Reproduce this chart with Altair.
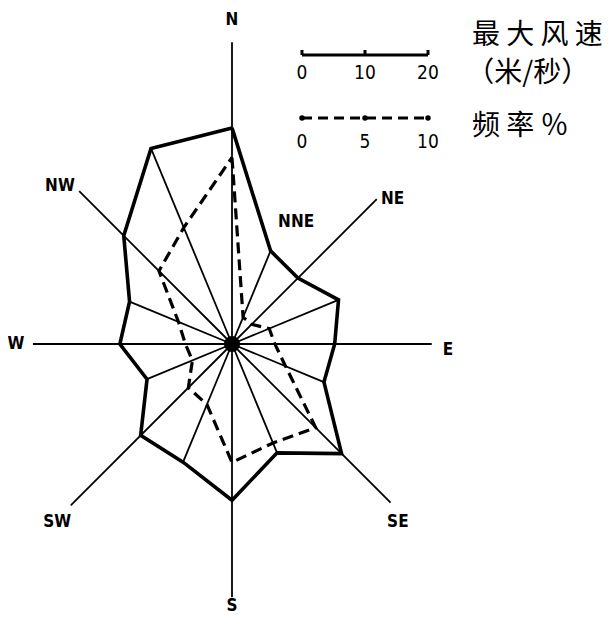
import altair as alt
import pandas as pd

# ---------------- data ----------------
directions = ["N", "NNE", "NE", "ENE", "E", "ESE", "SE", "SSE",
              "S", "SSW", "SW", "WSW", "W", "WNW", "NW", "NNW"]
max_speed = [34.3, 16.0, 14.8, 18.3, 16.3, 15.8, 24.6, 18.7,
             24.8, 20.3, 20.5, 14.6, 17.8, 17.6, 24.3, 33.6]      # m/s
frequency = [14.8, 2.3, 2.2, 3.2, 3.4, 4.6, 9.4, 8.5,
             9.4, 5.2, 4.9, 3.4, 3.7, 4.6, 8.2, 10.0]            # %

# long axes of the eight main directions (in m/s units of the rose)
main_axes = ["N", "NE", "E", "SE", "S", "SW", "W", "NW"]
main_axis_len = [47.9, 32.5, 31.7, 35.6, 40.2, 36.2, 31.6, 34.3]

# direction labels: text, bearing (deg), radius (m/s units)
label_text = ["N", "NNE", "NE", "E", "SE", "S", "SW", "W", "NW"]
label_bearing = [0, 27.7, 48, 91.6, 137, 180, 224.5, 270, 312.6]
label_radius = [51.4, 21.9, 34.3, 34.3, 38.6, 41.6, 39.6, 34.3, 37.1]

FREQ_TO_SPEED = 2.0          # 10 % is drawn as long as 20 m/s
speed_bar_ticks = [0, 10, 20]
freq_bar_ticks = [0, 5, 10]

# ---------------- layout ----------------
W, H = 595, 609
K = 6.3                      # px per m/s
CX, CY = 224, 336            # centre of the rose in plot-area px
xdom = [-CX / K, (W - CX) / K]
ydom = [-(H - CY) / K, CY / K]
xs = alt.Scale(domain=xdom, nice=False, zero=False)
ys = alt.Scale(domain=ydom, nice=False, zero=False)

LEG_X0 = 11.11               # left end of the scale bars
LEG_SPEED_Y = 45.87
LEG_FREQ_Y = 35.87
LABEL_FONT = "DejaVu Sans Condensed"

# ---------------- tables ----------------
n = len(directions)
rose = pd.DataFrame({
    "dir": directions,
    "bearing": [i * 22.5 for i in range(n)],
    "speed": max_speed,
    "freq": frequency,
    "order": list(range(n)),
})
axis_len = dict(zip(main_axes, main_axis_len))
rose["spoke"] = [max(s, axis_len.get(d, 0)) for d, s in zip(directions, max_speed)]
closed = pd.concat([rose, rose.iloc[[0]].assign(order=n)], ignore_index=True)

labels = pd.DataFrame({"t": label_text, "bearing": label_bearing, "r": label_radius})

X = alt.X("x:Q", scale=xs, axis=None)
Y = alt.Y("y:Q", scale=ys, axis=None)

def polar(r_expr):
    return dict(x=f"({r_expr}) * sin(datum.bearing * PI / 180)",
                y=f"({r_expr}) * cos(datum.bearing * PI / 180)")

spokes = alt.Chart(rose).transform_calculate(
    **polar("datum.spoke"), x0="0", y0="0"
).mark_rule(color="black", strokeWidth=1.8).encode(
    x=alt.X("x0:Q", scale=xs, axis=None), y=alt.Y("y0:Q", scale=ys, axis=None),
    x2="x:Q", y2="y:Q")

speed_line = alt.Chart(closed).transform_calculate(
    **polar("datum.speed")
).mark_line(color="black", strokeWidth=3.6, strokeJoin="miter").encode(
    x=X, y=Y, order="order:Q")

freq_line = alt.Chart(closed).transform_calculate(
    **polar(f"datum.freq * {FREQ_TO_SPEED}")
).mark_line(color="black", strokeWidth=3.2, strokeDash=[11, 6],
            strokeJoin="miter").encode(x=X, y=Y, order="order:Q")

centre = alt.Chart(pd.DataFrame({"x": [0], "y": [0]})).mark_circle(
    color="black", opacity=1, size=260).encode(x=X, y=Y)

dir_labels = alt.Chart(labels).transform_calculate(
    **polar("datum.r")
).mark_text(font=LABEL_FONT, fontSize=17, fontWeight="bold", color="black",
            baseline="middle").encode(x=X, y=Y, text="t:N")

# ---------------- scale-bar legend ----------------
sbar = pd.DataFrame({"x": [LEG_X0], "x2": [LEG_X0 + speed_bar_ticks[-1]],
                     "y": [LEG_SPEED_Y]})
speed_bar = alt.Chart(sbar).mark_rule(color="black", strokeWidth=3).encode(
    x=X, x2="x2:Q", y=Y)
speed_ticks_df = pd.DataFrame({"v": speed_bar_ticks})
speed_ticks = alt.Chart(speed_ticks_df).transform_calculate(
    x=f"{LEG_X0} + datum.v", y=f"{LEG_SPEED_Y}", y2=f"{LEG_SPEED_Y} + 0.8"
).mark_rule(color="black", strokeWidth=3).encode(x=X, y=Y, y2="y2:Q")
speed_tick_text = alt.Chart(speed_ticks_df).transform_calculate(
    x=f"{LEG_X0} + datum.v", y=f"{LEG_SPEED_Y} - 2.85", t="toString(datum.v)"
).mark_text(font=LABEL_FONT, fontSize=19, color="black",
            baseline="middle").encode(x=X, y=Y, text="t:N")

fbar = pd.DataFrame({"x": [LEG_X0], "x2": [LEG_X0 + freq_bar_ticks[-1] * FREQ_TO_SPEED],
                     "y": [LEG_FREQ_Y]})
freq_bar = alt.Chart(fbar).mark_rule(color="black", strokeWidth=3,
                                     strokeDash=[10, 6]).encode(x=X, x2="x2:Q", y=Y)
freq_ticks_df = pd.DataFrame({"v": freq_bar_ticks})
freq_ticks = alt.Chart(freq_ticks_df).transform_calculate(
    x=f"{LEG_X0} + datum.v * {FREQ_TO_SPEED}", y=f"{LEG_FREQ_Y}"
).mark_circle(color="black", opacity=1, size=30).encode(x=X, y=Y)
freq_tick_text = alt.Chart(freq_ticks_df).transform_calculate(
    x=f"{LEG_X0} + datum.v * {FREQ_TO_SPEED}", y=f"{LEG_FREQ_Y} - 3.8",
    t="toString(datum.v)"
).mark_text(font=LABEL_FONT, fontSize=19, color="black",
            baseline="middle").encode(x=X, y=Y, text="t:N")

legend_text = pd.DataFrame({
    "t": ["最 大 风 速", "（米/秒）", "频 率 ％"],
    "x": [38.1, 37.2, 38.1],
    "y": [48.89, 42.86, 34.44],
})
leg_text = alt.Chart(legend_text).mark_text(
    font="Noto Sans CJK SC", fontSize=28, color="black", align="left",
    baseline="middle").encode(x=X, y=Y, text="t:N")

chart = alt.layer(
    spokes, speed_line, freq_line, centre, dir_labels,
    speed_bar, speed_ticks, speed_tick_text,
    freq_bar, freq_ticks, freq_tick_text, leg_text,
).properties(
    width=W, height=H, autosize=alt.AutoSizeParams(type="none"), padding=0,
    background="white",
).configure_view(stroke=None)

chart.save("out.html", embed_options={"renderer": "svg", "actions": False})
